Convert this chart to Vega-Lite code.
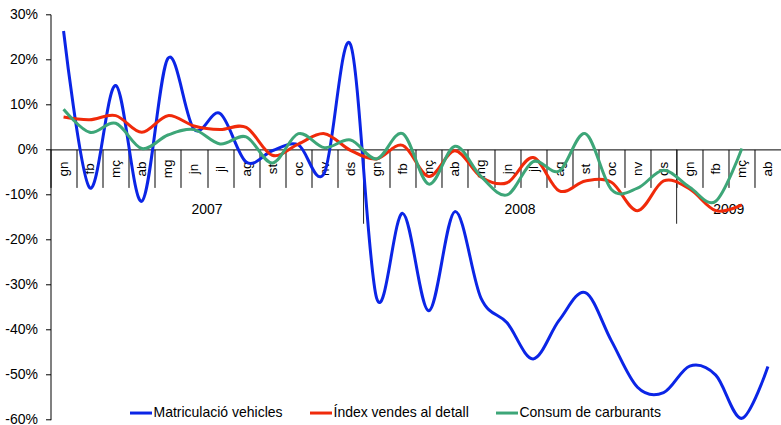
{
  "$schema": "https://vega.github.io/schema/vega-lite/v6.json",
  "width": 730.5,
  "height": 405.4,
  "autosize": {"type": "none"},
  "padding": {"left": 50.5, "top": 14.3, "right": 0, "bottom": 5},
  "background": "white",
  "config": {
    "font": "Liberation Sans",
    "view": {"stroke": null}
  },
  "datasets": {
    "series": [
      {"mes": "2007-01", "serie": "Matriculació vehicles", "valor": 26.3},
      {"mes": "2007-02", "serie": "Matriculació vehicles", "valor": -8.5},
      {"mes": "2007-03", "serie": "Matriculació vehicles", "valor": 14.2},
      {"mes": "2007-04", "serie": "Matriculació vehicles", "valor": -11.5},
      {"mes": "2007-05", "serie": "Matriculació vehicles", "valor": 20.2},
      {"mes": "2007-06", "serie": "Matriculació vehicles", "valor": 4.5},
      {"mes": "2007-07", "serie": "Matriculació vehicles", "valor": 8.0},
      {"mes": "2007-08", "serie": "Matriculació vehicles", "valor": -2.8},
      {"mes": "2007-09", "serie": "Matriculació vehicles", "valor": -0.3},
      {"mes": "2007-10", "serie": "Matriculació vehicles", "valor": 1.0},
      {"mes": "2007-11", "serie": "Matriculació vehicles", "valor": -5.2},
      {"mes": "2007-12", "serie": "Matriculació vehicles", "valor": 23.3},
      {"mes": "2008-01", "serie": "Matriculació vehicles", "valor": -33.0},
      {"mes": "2008-02", "serie": "Matriculació vehicles", "valor": -14.2},
      {"mes": "2008-03", "serie": "Matriculació vehicles", "valor": -35.8},
      {"mes": "2008-04", "serie": "Matriculació vehicles", "valor": -13.8},
      {"mes": "2008-05", "serie": "Matriculació vehicles", "valor": -33.0},
      {"mes": "2008-06", "serie": "Matriculació vehicles", "valor": -38.5},
      {"mes": "2008-07", "serie": "Matriculació vehicles", "valor": -46.5},
      {"mes": "2008-08", "serie": "Matriculació vehicles", "valor": -37.9},
      {"mes": "2008-09", "serie": "Matriculació vehicles", "valor": -31.8},
      {"mes": "2008-10", "serie": "Matriculació vehicles", "valor": -42.5},
      {"mes": "2008-11", "serie": "Matriculació vehicles", "valor": -52.8},
      {"mes": "2008-12", "serie": "Matriculació vehicles", "valor": -54.0},
      {"mes": "2009-01", "serie": "Matriculació vehicles", "valor": -48.1},
      {"mes": "2009-02", "serie": "Matriculació vehicles", "valor": -50.1},
      {"mes": "2009-03", "serie": "Matriculació vehicles", "valor": -59.7},
      {"mes": "2009-04", "serie": "Matriculació vehicles", "valor": -48.2},
      {"mes": "2007-01", "serie": "Índex vendes al detall", "valor": 7.2},
      {"mes": "2007-02", "serie": "Índex vendes al detall", "valor": 6.6},
      {"mes": "2007-03", "serie": "Índex vendes al detall", "valor": 7.5},
      {"mes": "2007-04", "serie": "Índex vendes al detall", "valor": 3.8},
      {"mes": "2007-05", "serie": "Índex vendes al detall", "valor": 7.5},
      {"mes": "2007-06", "serie": "Índex vendes al detall", "valor": 5.2},
      {"mes": "2007-07", "serie": "Índex vendes al detall", "valor": 4.4},
      {"mes": "2007-08", "serie": "Índex vendes al detall", "valor": 4.9},
      {"mes": "2007-09", "serie": "Índex vendes al detall", "valor": -1.3},
      {"mes": "2007-10", "serie": "Índex vendes al detall", "valor": 1.2},
      {"mes": "2007-11", "serie": "Índex vendes al detall", "valor": 3.5},
      {"mes": "2007-12", "serie": "Índex vendes al detall", "valor": -0.2},
      {"mes": "2008-01", "serie": "Índex vendes al detall", "valor": -2.1},
      {"mes": "2008-02", "serie": "Índex vendes al detall", "valor": 0.9},
      {"mes": "2008-03", "serie": "Índex vendes al detall", "valor": -6.0},
      {"mes": "2008-04", "serie": "Índex vendes al detall", "valor": -0.3},
      {"mes": "2008-05", "serie": "Índex vendes al detall", "valor": -6.1},
      {"mes": "2008-06", "serie": "Índex vendes al detall", "valor": -7.4},
      {"mes": "2008-07", "serie": "Índex vendes al detall", "valor": -1.8},
      {"mes": "2008-08", "serie": "Índex vendes al detall", "valor": -9.2},
      {"mes": "2008-09", "serie": "Índex vendes al detall", "valor": -7.0},
      {"mes": "2008-10", "serie": "Índex vendes al detall", "valor": -7.3},
      {"mes": "2008-11", "serie": "Índex vendes al detall", "valor": -13.6},
      {"mes": "2008-12", "serie": "Índex vendes al detall", "valor": -7.0},
      {"mes": "2009-01", "serie": "Índex vendes al detall", "valor": -8.8},
      {"mes": "2009-02", "serie": "Índex vendes al detall", "valor": -13.6},
      {"mes": "2009-03", "serie": "Índex vendes al detall", "valor": -12.3},
      {"mes": "2007-01", "serie": "Consum de carburants", "valor": 8.9},
      {"mes": "2007-02", "serie": "Consum de carburants", "valor": 3.8},
      {"mes": "2007-03", "serie": "Consum de carburants", "valor": 5.8},
      {"mes": "2007-04", "serie": "Consum de carburants", "valor": 0.2},
      {"mes": "2007-05", "serie": "Consum de carburants", "valor": 3.2},
      {"mes": "2007-06", "serie": "Consum de carburants", "valor": 4.4},
      {"mes": "2007-07", "serie": "Consum de carburants", "valor": 1.2},
      {"mes": "2007-08", "serie": "Consum de carburants", "valor": 2.8},
      {"mes": "2007-09", "serie": "Consum de carburants", "valor": -3.0},
      {"mes": "2007-10", "serie": "Consum de carburants", "valor": 3.5},
      {"mes": "2007-11", "serie": "Consum de carburants", "valor": 0.4},
      {"mes": "2007-12", "serie": "Consum de carburants", "valor": 2.1},
      {"mes": "2008-01", "serie": "Consum de carburants", "valor": -2.1},
      {"mes": "2008-02", "serie": "Consum de carburants", "valor": 3.5},
      {"mes": "2008-03", "serie": "Consum de carburants", "valor": -7.7},
      {"mes": "2008-04", "serie": "Consum de carburants", "valor": 0.7},
      {"mes": "2008-05", "serie": "Consum de carburants", "valor": -6.0},
      {"mes": "2008-06", "serie": "Consum de carburants", "valor": -10.1},
      {"mes": "2008-07", "serie": "Consum de carburants", "valor": -2.7},
      {"mes": "2008-08", "serie": "Consum de carburants", "valor": -4.8},
      {"mes": "2008-09", "serie": "Consum de carburants", "valor": 3.5},
      {"mes": "2008-10", "serie": "Consum de carburants", "valor": -8.9},
      {"mes": "2008-11", "serie": "Consum de carburants", "valor": -8.6},
      {"mes": "2008-12", "serie": "Consum de carburants", "valor": -4.6},
      {"mes": "2009-01", "serie": "Consum de carburants", "valor": -8.4},
      {"mes": "2009-02", "serie": "Consum de carburants", "valor": -11.5},
      {"mes": "2009-03", "serie": "Consum de carburants", "valor": 0.2}
    ],
    "anys": [
      {"mes": "2007-07", "any": "2007"},
      {"mes": "2008-07", "any": "2008"},
      {"mes": "2009-03", "any": "2009"}
    ],
    "separadors": [
      {"mes": "2008-01"},
      {"mes": "2009-01"}
    ]
  },
  "layer": [
    {
      "data": {"name": "separadors"},
      "mark": {"type": "rule", "color": "#222", "strokeWidth": 1},
      "encoding": {
        "x": {"field": "mes", "type": "nominal", "bandPosition": 0,
              "scale": {"type": "band", "paddingInner": 0, "paddingOuter": 0}},
        "y": {"datum": 0, "type": "quantitative"},
        "y2": {"datum": -16.5}
      }
    },
    {
      "data": {"name": "anys"},
      "mark": {"type": "text", "fontSize": 14, "align": "center", "baseline": "middle", "color": "#000", "font": "Liberation Sans"},
      "encoding": {
        "x": {"field": "mes", "type": "nominal", "bandPosition": 0,
              "scale": {"type": "band", "paddingInner": 0, "paddingOuter": 0}},
        "y": {"datum": -13.4, "type": "quantitative"},
        "text": {"field": "any"}
      }
    },
    {
      "data": {"name": "series"},
      "mark": {"type": "line", "interpolate": "cardinal", "strokeWidth": 3},
      "encoding": {
        "x": {
          "field": "mes", "type": "nominal", "bandPosition": 0.5,
          "scale": {"type": "band", "paddingInner": 0, "paddingOuter": 0},
          "axis": {
            "title": null,
            "orient": "bottom",
            "offset": -270.3,
            "tickBand": "extent",
            "tickSize": 38,
            "tickColor": "#000",
            "domainColor": "#000",
            "labelAngle": 270,
            "labelAlign": "center",
            "labelBaseline": "middle",
            "labelPadding": -19,
            "labelFontSize": 13.5,
            "labelColor": "#000",
            "labelFont": "Liberation Sans",
            "labelExpr": "isString(datum.value) ? ['gn','fb','mç','ab','mg','jn','jl','ag','st','oc','nv','ds'][toNumber(substring(datum.value,5,7))-1] : ''"
          }
        },
        "y": {
          "field": "valor", "type": "quantitative",
          "scale": {"domain": [-60, 30], "nice": false, "zero": false},
          "axis": {
            "title": null,
            "values": [-60, -50, -40, -30, -20, -10, 0, 10, 20, 30],
            "labelExpr": "datum.value + '%'",
            "grid": false,
            "tickSize": 5,
            "tickColor": "#000",
            "domainColor": "#000",
            "labelPadding": 8,
            "labelFontSize": 14,
            "labelColor": "#000",
            "labelFont": "Liberation Sans"
          }
        },
        "color": {
          "field": "serie", "type": "nominal",
          "scale": {
            "domain": ["Matriculació vehicles", "Índex vendes al detall", "Consum de carburants"],
            "range": ["#0B25E6", "#F02A0A", "#3DA678"]
          },
          "legend": {
            "title": null,
            "orient": "none",
            "direction": "horizontal",
            "legendX": 78,
            "legendY": 386,
            "symbolType": "stroke",
            "symbolSize": 484,
            "symbolStrokeWidth": 3,
            "labelFontSize": 14,
            "labelFont": "Liberation Sans",
            "labelColor": "#000",
            "labelOffset": 0,
            "columnPadding": 20,
            "labelLimit": 300
          }
        }
      }
    }
  ]
}
